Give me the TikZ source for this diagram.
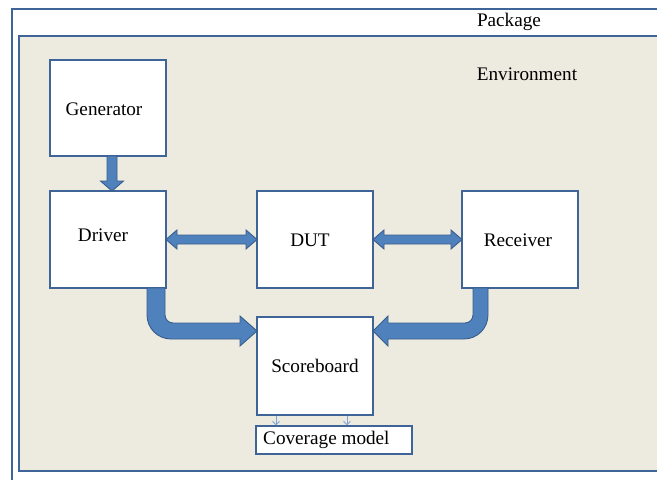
\documentclass[tikz,border=0pt]{standalone}
\usepackage{fontspec}
\setmainfont{Liberation Serif}
\usetikzlibrary{calc,arrows.meta}
\definecolor{frameblue}{HTML}{3F6497}
\definecolor{arrowfill}{HTML}{4F81BD}
\definecolor{arrowedge}{HTML}{385D8A}
\definecolor{envfill}{HTML}{EDEAE0}
\definecolor{feedblue}{HTML}{7FA6D6}
\tikzset{
  boxst/.style={draw=frameblue, line width=1.6pt, fill=white, minimum width=116pt, minimum height=97pt, inner sep=0pt, outer sep=0pt},
  txt/.style={font=\fontsize{19.2}{22}\selectfont, inner sep=0pt},
  blk/.style={fill=arrowfill, draw=arrowedge, line width=0.9pt, line join=miter},
  feed/.style={draw=feedblue, line width=1pt, -{Straight Barb[length=3.5pt,width=7pt,line width=0.9pt]}}
}
\begin{document}
\begin{tikzpicture}[x=1pt, y=-1pt]
\useasboundingbox (0,0) rectangle (657,480);
\clip (0,0) rectangle (657,480);
\fill[white] (0,0) rectangle (657,480);
% outer package frame and environment panel
\draw[frameblue, line width=1.8pt] (12,9) rectangle (700,520);
\draw[frameblue, line width=1.8pt, fill=envfill] (19,36) rectangle (700,471);
\node[txt] (pkg) at (509,22) {Package};
\node[txt] (env) at (527,74) {Environment};

% component boxes
\node[boxst, minimum height=96pt] (gen) at (108,108) {};
\node[txt] at (104,109) {Generator};
\node[boxst] (drv) at (108,239.5) {};
\node[txt] at (103,235) {Driver};
\node[boxst] (dut) at (315,239.5) {};
\node[txt] at (310,240) {DUT};
\node[boxst] (rcv) at (520,239.5) {};
\node[txt] at (518,240) {Receiver};
\node[boxst, minimum height=98pt] (sb) at (315,366) {};
\node[txt] at (315,366) {Scoreboard};
\node[boxst, line width=1.2pt, minimum width=156pt, minimum height=28pt] (cov) at (334,440) {};
\node[txt, anchor=west] at ($(cov.west)+(7,0)$) {Coverage model};

% generator to driver
\draw[blk] ($(gen.south)+(-1,0)$) -- ++(0,25) -- ++(-6.5,0) -- ($(drv.north)+(4,0)$)
  -- ++(11.5,-10) -- ++(-6.5,0) -- ($(gen.south)+(9,0)$) -- cycle;

% driver <-> DUT
\draw[blk] (drv.east) -- ++(11,-9.5) -- ++(0,5) -- ($(dut.west)+(-11,-4.5)$) -- ++(0,-5)
  -- (dut.west) -- ++(-11,9.5) -- ++(0,-5) -- ($(drv.east)+(11,4.5)$) -- ++(0,5) -- cycle;

% DUT <-> receiver
\draw[blk] (dut.east) -- ++(11,-9.5) -- ++(0,5) -- ($(rcv.west)+(-11,-4.5)$) -- ++(0,-5)
  -- (rcv.west) -- ++(-11,9.5) -- ++(0,-5) -- ($(dut.east)+(11,4.5)$) -- ++(0,5) -- cycle;

% driver to scoreboard (bent)
\draw[blk] ($(drv.south east)+(-19,0)$) -- ($(drv.south east)+(-19,27)$)
  .. controls ($(drv.south east)+(-19,40.25)$) and ($(drv.south east)+(-8.25,51)$) .. ($(drv.south east)+(5,51)$)
  -- ($(sb.north west)+(-17,22)$) -- ($(sb.north west)+(-17,29)$) -- ($(sb.north west)+(0,14)$)
  -- ($(sb.north west)+(-17,-1)$) -- ($(sb.north west)+(-17,6)$) -- ($(drv.south east)+(7,35)$)
  .. controls ($(drv.south east)+(2.58,35)$) and ($(drv.south east)+(-1,31.42)$) .. ($(drv.south east)+(-1,27)$)
  -- ($(drv.south east)+(-1,0)$) -- cycle;

% receiver to scoreboard (bent)
\draw[blk] ($(rcv.south)+(-32,0)$) -- ($(rcv.south)+(-32,27)$)
  .. controls ($(rcv.south)+(-32,40.25)$) and ($(rcv.south)+(-42.75,51)$) .. ($(rcv.south)+(-56,51)$)
  -- ($(sb.north east)+(15,22)$) -- ($(sb.north east)+(15,29)$) -- ($(sb.north east)+(0,14)$)
  -- ($(sb.north east)+(15,-1)$) -- ($(sb.north east)+(15,6)$) -- ($(rcv.south)+(-55,35)$)
  .. controls ($(rcv.south)+(-50.58,35)$) and ($(rcv.south)+(-47,31.42)$) .. ($(rcv.south)+(-47,27)$)
  -- ($(rcv.south)+(-47,0)$) -- cycle;

% scoreboard to coverage model
\draw[feed] ($(sb.south west)+(19,0.8)$) -- ($(cov.north west)+(20,-0.6)$);
\draw[feed] ($(sb.south west)+(90,0.8)$) -- ($(cov.north west)+(91,-0.6)$);
\end{tikzpicture}
\end{document}
